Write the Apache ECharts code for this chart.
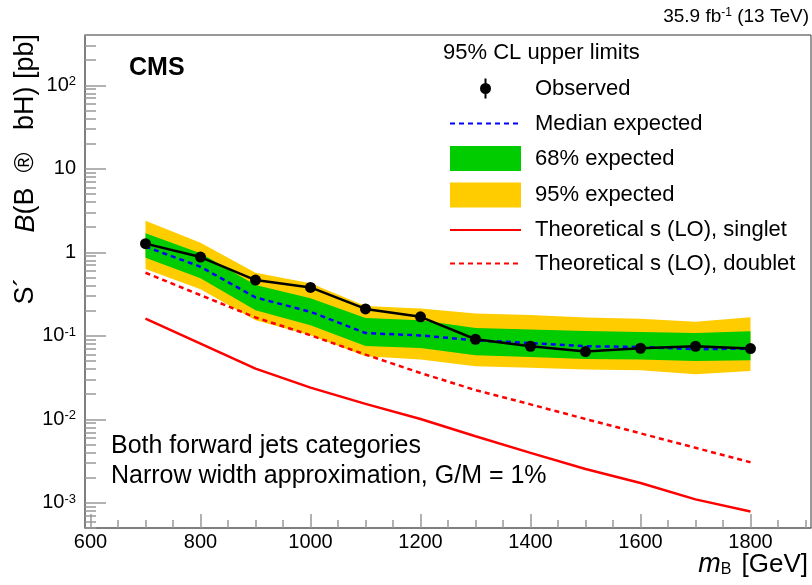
<!DOCTYPE html>
<html>
<head>
<meta charset="utf-8">
<script src="https://cdn.jsdelivr.net/npm/echarts@6/dist/echarts.min.js"></script>
<style>
  html, body { margin: 0; padding: 0; background: #fff; }
  #chart { width: 812px; height: 585px; }
</style>
</head>
<body>
<div id="chart"></div>
<script>
// ---- data ----
const masses = [700, 800, 900, 1000, 1100, 1200, 1300, 1400, 1500, 1600, 1700, 1800];
const observed = [1.27, 0.878, 0.465, 0.380, 0.210, 0.169, 0.091, 0.075, 0.0648, 0.071, 0.075, 0.0704];
const expMedian = [1.17, 0.672, 0.288, 0.194, 0.108, 0.101, 0.0885, 0.082, 0.075, 0.0736, 0.069, 0.0704];
const exp68Lo = [0.861, 0.488, 0.203, 0.134, 0.0757, 0.0716, 0.0585, 0.0558, 0.0528, 0.0519, 0.050, 0.0509];
const exp68Hi = [1.69, 0.973, 0.405, 0.281, 0.164, 0.154, 0.124, 0.119, 0.1145, 0.1114, 0.108, 0.1135];
const exp95Lo = [0.631, 0.360, 0.154, 0.1016, 0.0569, 0.0519, 0.0432, 0.0416, 0.0394, 0.0387, 0.0346, 0.0379];
const exp95Hi = [2.38, 1.30, 0.569, 0.425, 0.227, 0.213, 0.185, 0.177, 0.166, 0.160, 0.147, 0.167];
const theorySinglet = [0.161, 0.0808, 0.0405, 0.024, 0.0153, 0.0101, 0.00628, 0.00397, 0.00254, 0.00173, 0.0011, 0.00079];
const theoryDoublet = [0.569, 0.307, 0.166, 0.1016, 0.0596, 0.0359, 0.0224, 0.0151, 0.0101, 0.0068, 0.00456, 0.00306];

const xTickValues = [600, 800, 1000, 1200, 1400, 1600, 1800];
const xTickLabels = ['600', '800', '1000', '1200', '1400', '1600', '1800'];
const yTickValues = [1e-3, 1e-2, 1e-1, 1, 10, 100];
const yTickLabels = ['10{sup|-3}', '10{sup|-2}', '10{sup|-1}', '1', '10', '10{sup|2}'];

const seriesNames = {
  obs: 'Observed',
  med: 'Median expected',
  b68: '68% expected',
  b95: '95% expected',
  sing: 'Theoretical s (LO), singlet',
  doub: 'Theoretical s (LO), doublet'
};

// ---- axis ranges and minor ticks ----
const X_MIN = 590, X_MAX = 1910;
const Y_MIN = 5e-4, Y_MAX = 400;
const xMinorTicks = [];
for (let v = 600; v <= 1900; v += 50) if (v % 200 !== 0) xMinorTicks.push(v);
const yMinorTicks = [];
for (let e = -4; e <= 2; e++) for (let k = 2; k <= 9; k++) {
  const v = k * Math.pow(10, e);
  if (v >= Y_MIN && v <= Y_MAX) yMinorTicks.push(v);
}

const FONT = "'Liberation Sans', Arial, Helvetica, sans-serif";

function bandSeries(name, lo, hi, color, z) {
  return {
    type: 'custom',
    name: name,
    z: z,
    silent: true,
    itemStyle: { color: color },
    data: masses.map((m, i) => [m, lo[i], hi[i]]),
    encode: { x: 0, y: [1, 2] },
    renderItem: function (params, api) {
      if (params.dataIndex !== 0) return null;
      const pts = [];
      for (let i = 0; i < masses.length; i++) pts.push(api.coord([masses[i], hi[i]]));
      for (let i = masses.length - 1; i >= 0; i--) pts.push(api.coord([masses[i], lo[i]]));
      return { type: 'polygon', shape: { points: pts }, style: { fill: color, stroke: null } };
    }
  };
}

function lineSeries(name, values, color, type, z, withSymbol) {
  return {
    type: 'line',
    name: name,
    z: z,
    data: masses.map((m, i) => [m, values[i]]),
    symbol: withSymbol ? 'circle' : 'none',
    symbolSize: 11,
    showSymbol: !!withSymbol,
    itemStyle: { color: color },
    lineStyle: { color: color, width: 2.5, type: type },
    emphasis: { disabled: true },
    animation: false
  };
}

const obsIcon = 'path://M5,-2.5h0.01v0.01h-0.01z M5,0H7V20H5Z M0.5,10A5.5,5.5,0,1,1,11.5,10A5.5,5.5,0,1,1,0.5,10Z M5,22.5h0.01v0.01h-0.01z';

const chart = echarts.init(document.getElementById('chart'), null, { renderer: 'canvas' });
chart.setOption({
  animation: false,
  backgroundColor: '#fff',
  textStyle: { fontFamily: FONT },
  grid: { left: 85, top: 35, width: 726, height: 493, show: true, borderColor: '#333', borderWidth: 1,
    containLabel: false, outerBoundsMode: 'none' },
  title: [
    { text: 'CMS', left: 129, top: 56, padding: 0,
      textStyle: { fontSize: 25, fontWeight: 'bold', color: '#000', fontFamily: FONT } },
    { text: '35.9 fb{sup|-1} (13 TeV)', right: 3, top: 7, padding: 0,
      textStyle: { fontSize: 19, fontWeight: 'normal', color: '#000', fontFamily: FONT,
        rich: { sup: { fontSize: 12, verticalAlign: 'top', fontFamily: FONT } } } },
    { text: '95% CL upper limits', left: 443, top: 42, padding: 0,
      textStyle: { fontSize: 22, fontWeight: 'normal', color: '#000', fontFamily: FONT } },
    { text: 'Both forward jets categories\nNarrow width approximation, G/M = 1%', left: 111, top: 431, padding: 0,
      textStyle: { fontSize: 25, fontWeight: 'normal', color: '#000', lineHeight: 30, fontFamily: FONT } },
    { text: '{i|m}{s|B} [GeV]', right: 4, top: 551, padding: 0,
      textStyle: { fontSize: 26, fontWeight: 'normal', color: '#000', fontFamily: FONT,
        rich: { i: { fontSize: 27, fontStyle: 'italic', fontFamily: FONT, color: '#000' },
                s: { fontSize: 16, verticalAlign: 'bottom', fontFamily: FONT, color: '#000', padding: [0, 3, 0, 0] } } } }
  ],
  legend: {
    orient: 'vertical', left: 449, top: 76, padding: 0,
    itemWidth: 71, itemHeight: 25, itemGap: 11.5,
    selectedMode: false,
    textStyle: { fontSize: 22, color: '#000', fontFamily: FONT, padding: [0, 0, 0, 9] },
    data: [
      { name: seriesNames.obs, icon: obsIcon },
      { name: seriesNames.med, icon: 'inherit', itemStyle: { opacity: 0 } },
      { name: seriesNames.b68, icon: 'rect' },
      { name: seriesNames.b95, icon: 'rect' },
      { name: seriesNames.sing, icon: 'inherit', itemStyle: { opacity: 0 } },
      { name: seriesNames.doub, icon: 'inherit', itemStyle: { opacity: 0 } }
    ]
  },
  xAxis: [
    {
      type: 'value', min: X_MIN, max: X_MAX, position: 'bottom',
      axisLine: { show: true, lineStyle: { color: '#777', width: 1.5 } },
      axisTick: { show: true, inside: true, length: 14, customValues: xTickValues, lineStyle: { color: '#999', width: 1.5 } },
      axisLabel: { show: true, customValues: xTickValues, margin: 4, fontSize: 20, color: '#000', fontFamily: FONT,
        formatter: function (v) { const i = xTickValues.indexOf(v); return i >= 0 ? xTickLabels[i] : ''; } },
      splitLine: { show: false }
    },
    {
      type: 'value', min: X_MIN, max: X_MAX, position: 'bottom',
      axisLine: { show: false },
      axisTick: { show: true, inside: true, length: 8, customValues: xMinorTicks, lineStyle: { color: '#999', width: 1.5 } },
      axisLabel: { show: false },
      splitLine: { show: false }
    }
  ],
  yAxis: [
    {
      type: 'log', logBase: 10, min: Y_MIN, max: Y_MAX, position: 'left',
      axisLine: { show: true, lineStyle: { color: '#777', width: 1.5 } },
      axisTick: { show: true, inside: true, length: 21, customValues: yTickValues, lineStyle: { color: '#999', width: 1.5 } },
      axisLabel: { show: true, customValues: yTickValues, margin: 9, fontSize: 20, color: '#000', fontFamily: FONT,
        formatter: function (v) {
          for (let i = 0; i < yTickValues.length; i++) {
            if (Math.abs(Math.log10(v) - Math.log10(yTickValues[i])) < 1e-6) return yTickLabels[i];
          }
          return '';
        },
        rich: { sup: { fontSize: 13, verticalAlign: 'top', fontFamily: FONT, color: '#000' } } },
      splitLine: { show: false }
    },
    {
      type: 'log', logBase: 10, min: Y_MIN, max: Y_MAX, position: 'left',
      axisLine: { show: false },
      axisTick: { show: true, inside: true, length: 11, customValues: yMinorTicks, lineStyle: { color: '#999', width: 1.5 } },
      axisLabel: { show: false },
      splitLine: { show: false }
    }
  ],
  graphic: [
    {
      type: 'text', x: 26, y: 34, rotation: Math.PI / 2,
      style: {
        text: 'S\u00b4      {i|B}(B  \u00ae   bH) [pb]',
        fontSize: 27, fontFamily: FONT, fill: '#000', align: 'right', verticalAlign: 'middle',
        rich: { i: { fontSize: 27, fontStyle: 'italic', fontFamily: FONT, fill: '#000' } }
      }
    }
  ],
  series: [
    bandSeries(seriesNames.b95, exp95Lo, exp95Hi, '#ffcc00', 1),
    bandSeries(seriesNames.b68, exp68Lo, exp68Hi, '#00cc00', 2),
    lineSeries(seriesNames.sing, theorySinglet, '#ff0000', 'solid', 3, false),
    lineSeries(seriesNames.doub, theoryDoublet, '#ff0000', [5, 4], 4, false),
    lineSeries(seriesNames.med, expMedian, '#0000ff', [5, 4], 5, false),
    lineSeries(seriesNames.obs, observed, '#000000', 'solid', 6, true)
  ]
});
</script>
</body>
</html>
